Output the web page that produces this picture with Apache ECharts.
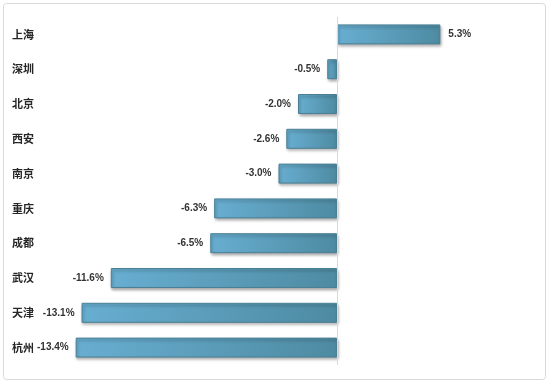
<!DOCTYPE html>
<html><head><meta charset="utf-8">
<script src="https://cdn.jsdelivr.net/npm/echarts@6/dist/echarts.min.js"></script>
<style>html,body{margin:0;padding:0;background:#fff}#c{width:552px;height:385px}</style>
</head><body><div id="c"></div>
<script>
const cities = ['上海','深圳','北京','西安','南京','重庆','成都','武汉','天津','杭州'];
const values = [5.3,-0.5,-2.0,-2.6,-3.0,-6.3,-6.5,-11.6,-13.1,-13.4];

const chart = echarts.init(document.getElementById('c'));
const grad = new echarts.graphic.LinearGradient(0,0,1,0,[{offset:0,color:'#68aed1'},{offset:1,color:'#4e8ba2'}]);
const data = values.map(v => ({
  value: v,
  label: {position: v >= 0 ? 'right' : 'left', distance: v >= 0 ? 8 : 7}
}));
chart.setOption({
  animation:false,
  graphic:[{type:'rect',shape:{x:3.5,y:3.5,width:542,height:376,r:3},style:{fill:'none',stroke:'#d9d9d9',lineWidth:1},silent:true}],
  grid:{left:64,right:59,top:17,bottom:20,containLabel:false},
  xAxis:{type:'value',min:-14,max:8,show:false},
  yAxis:{type:'category',data:cities,inverse:true,
    axisLine:{show:false,onZero:false},axisTick:{show:false},
    axisLabel:{align:'left',margin:52,fontSize:11,fontWeight:'bold',color:'#262626',fontFamily:'Noto Sans CJK SC'}},
  series:[{type:'bar',data:data,barWidth:20,
    itemStyle:{color:grad,borderColor:'#4a8095',borderWidth:1,shadowColor:'rgba(0,0,0,0.35)',shadowBlur:3,shadowOffsetY:2,shadowOffsetX:1},
    label:{show:true,formatter:p=>p.value.toFixed(1)+'%',fontSize:10,fontWeight:'bold',color:'#333333',fontFamily:'Liberation Sans Narrow, Liberation Sans, sans-serif'},
    markLine:{silent:true,symbol:'none',label:{show:false},lineStyle:{color:'#d9d9d9',type:'solid',width:1},data:[{xAxis:0}]}
  }]
});
</script></body></html>
